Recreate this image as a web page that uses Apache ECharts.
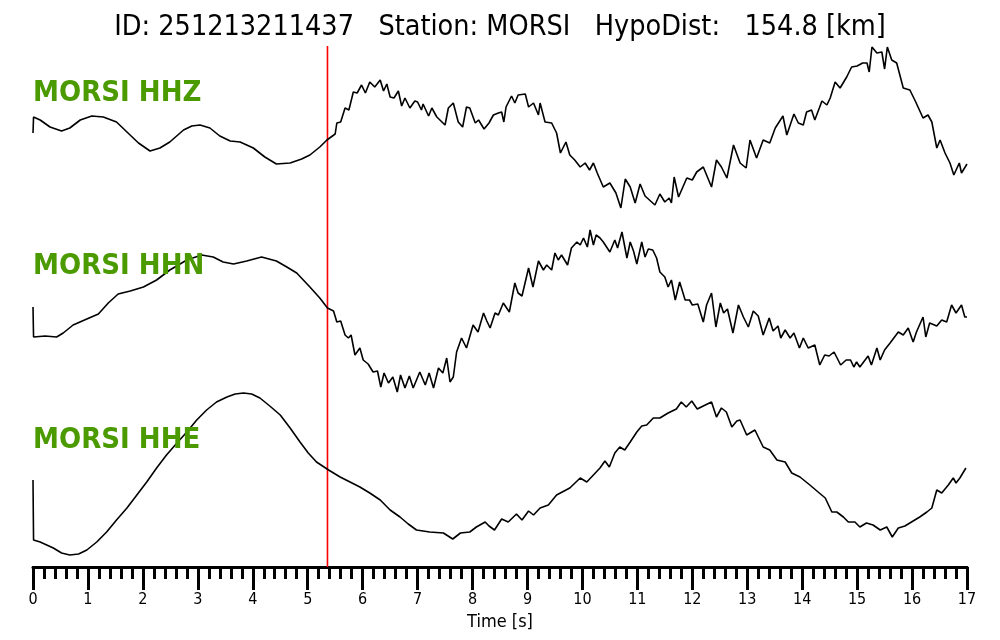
<!DOCTYPE html>
<html>
<head>
<meta charset="utf-8">
<script src="https://cdn.jsdelivr.net/npm/echarts@6/dist/echarts.min.js"></script>
<style>
  html, body { margin: 0; padding: 0; background: #fff; }
  #chart { width: 1000px; height: 640px; }
</style>
</head>
<body>
<div id="chart"></div>
<script>
// ---- header text ----
const eventId = '251213211437';
const station = 'MORSI';
const hypoDist = '154.8';
const channels = ['MORSI HHZ', 'MORSI HHN', 'MORSI HHE'];
const pickTime = 5.36;           // red marker [s]
const timeMin = 0, timeMax = 17; // x range [s]

// ---- traces: [time s, relative amplitude] ----
const hhz = [
  [0,-5],[0.01,11],[0.13,8],[0.31,1],[0.52,-3],[0.67,0],[0.86,8],[1.07,12],[1.28,11],[1.52,6],
  [1.71,-4],[1.92,-15],[2.13,-23],[2.31,-20],[2.49,-14],[2.74,-2],[2.89,2],[3.04,3],[3.22,0],[3.4,-8],
  [3.59,-13],[3.77,-14],[4.01,-20],[4.22,-29],[4.43,-36],[4.68,-35],[4.89,-31],[5.04,-27],[5.22,-19],[5.35,-12],
  [5.5,-6],[5.53,5],[5.6,6],[5.68,20],[5.75,18],[5.83,36],[5.9,35],[5.98,43],[6.05,35],
  [6.13,46],[6.22,41],[6.32,48],[6.38,37],[6.44,44],[6.5,31],[6.57,30],[6.65,37],[6.71,22],[6.77,30],
  [6.86,20],[6.95,27],[7.0,26],[7.07,18],[7.1,24],[7.2,12],[7.26,20],[7.35,11],[7.5,3],[7.56,20],
  [7.65,25],[7.74,6],[7.82,1],[7.89,21],[7.95,20],[8.05,5],[8.11,8],[8.21,-1],[8.3,5],[8.38,13],
  [8.47,15],[8.53,16],[8.57,6],[8.61,21],[8.71,32],[8.77,25],[8.83,33],[8.96,34],[9.02,21],[9.11,25],
  [9.2,13],[9.23,25],[9.32,6],[9.44,5],[9.53,-5],[9.6,-25],[9.7,-14],[9.77,-27],[9.86,-32],[9.96,-39],
  [10.05,-35],[10.13,-42],[10.2,-35],[10.27,-45],[10.38,-59],[10.5,-55],[10.61,-65],[10.7,-80],[10.78,-51],[10.87,-59],
  [10.96,-75],[11.05,-56],[11.14,-68],[11.32,-77],[11.41,-66],[11.5,-74],[11.58,-70],[11.62,-75],[11.67,-49],[11.75,-69],
  [11.9,-50],[12.0,-52],[12.08,-44],[12.2,-39],[12.35,-59],[12.44,-32],[12.53,-39],[12.63,-50],[12.75,-17],[12.87,-35],
  [12.98,-40],[13.05,-12],[13.17,-30],[13.29,-12],[13.41,-15],[13.51,0],[13.65,12],[13.72,-7],[13.85,14],[13.93,5],
  [14.02,3],[14.08,16],[14.17,18],[14.23,8],[14.36,27],[14.45,23],[14.51,30],[14.6,46],[14.69,40],[14.81,51],
  [14.9,61],[15.0,62],[15.1,65],[15.18,65],[15.22,56],[15.27,81],[15.36,75],[15.45,76],[15.5,59],[15.55,81],
  [15.63,68],[15.72,65],[15.84,40],[15.96,38],[16.05,28],[16.2,10],[16.29,13],[16.36,6],[16.45,-20],[16.51,-12],
  [16.6,-25],[16.69,-35],[16.76,-47],[16.86,-35],[16.9,-45],[17,-36]
];
const hhn = [
  [0,4],[0.01,-26],[0.22,-25],[0.43,-26],[0.55,-22],[0.73,-14],[0.98,-8],[1.19,-3],[1.37,8],[1.55,17],
  [1.77,20],[2.01,24],[2.25,31],[2.49,41],[2.8,51],[3.07,56],[3.28,54],[3.46,49],[3.65,47],[3.89,50],[4.16,54],
  [4.43,50],[4.62,44],[4.8,38],[5.04,24],[5.22,13],[5.36,3],[5.47,0],[5.53,-11],[5.6,-10],[5.68,-24],[5.74,-27],
  [5.79,-24],[5.86,-44],[5.95,-37],[6.01,-49],[6.1,-53],[6.19,-61],[6.27,-60],[6.33,-76],[6.39,-62],[6.47,-72],
  [6.55,-66],[6.63,-81],[6.69,-64],[6.77,-77],[6.85,-65],[6.92,-77],[7.04,-61],[7.14,-74],[7.21,-62],[7.29,-77],
  [7.38,-57],[7.46,-62],[7.53,-47],[7.59,-71],[7.65,-66],[7.71,-41],[7.8,-27],[7.89,-37],[8.01,-14],[8.1,-21],
  [8.2,-2],[8.26,-10],[8.32,-17],[8.41,-2],[8.47,-4],[8.56,8],[8.67,-1],[8.77,28],[8.83,18],[8.9,15],
  [9.02,43],[9.1,24],[9.2,50],[9.29,41],[9.35,46],[9.44,41],[9.5,58],[9.56,51],[9.62,56],[9.73,46],
  [9.8,63],[9.9,69],[9.96,66],[10.02,73],[10.09,64],[10.14,81],[10.2,66],[10.25,76],[10.32,73],[10.38,69],
  [10.5,59],[10.59,71],[10.64,63],[10.72,79],[10.81,53],[10.87,69],[10.93,60],[10.99,47],[11.08,69],[11.14,54],
  [11.2,62],[11.28,61],[11.35,53],[11.41,39],[11.5,34],[11.56,24],[11.62,31],[11.69,11],[11.77,29],[11.87,11],
  [11.95,11],[12.0,6],[12.1,7],[12.2,-11],[12.26,6],[12.35,18],[12.43,-16],[12.51,8],[12.57,-2],[12.64,2],
  [12.74,-22],[12.84,6],[12.93,-6],[13.02,-16],[13.11,0],[13.2,-5],[13.29,-24],[13.4,-7],[13.47,-20],[13.56,-15],
  [13.61,-27],[13.69,-19],[13.78,-27],[13.85,-22],[13.95,-37],[14.02,-27],[14.11,-37],[14.23,-34],[14.32,-54],[14.41,-44],
  [14.49,-45],[14.58,-41],[14.7,-54],[14.8,-49],[14.88,-49],[14.94,-56],[14.99,-51],[15.05,-56],[15.2,-45],[15.26,-54],
  [15.36,-37],[15.42,-49],[15.5,-39],[15.6,-32],[15.75,-21],[15.84,-24],[15.93,-17],[16.02,-31],[16.08,-21],[16.2,-6],
  [16.25,-26],[16.32,-12],[16.45,-15],[16.54,-9],[16.63,-11],[16.72,6],[16.8,-2],[16.9,6],[16.96,-6],[17,-6]
];
const hhe = [
  [0,-6],[0.01,-66],[0.13,-68],[0.37,-74],[0.52,-79],[0.67,-81],[0.83,-80],[0.98,-76],[1.16,-68],[1.34,-58],
  [1.52,-46],[1.71,-34],[1.89,-21],[2.07,-8],[2.25,6],[2.43,19],[2.62,31],[2.8,42],[2.98,54],[3.16,64],
  [3.34,72],[3.53,77],[3.68,80],[3.83,81],[3.98,80],[4.13,76],[4.31,68],[4.5,59],[4.68,46],[4.86,32],
  [5.01,21],[5.16,12],[5.38,4],[5.59,-3],[5.77,-8],
  [5.95,-13],[6.13,-19],[6.32,-26],[6.5,-36],[6.68,-43],[6.83,-50],[6.98,-56],[7.22,-58],[7.47,-59],[7.64,-65],
  [7.78,-59],[7.95,-58],[8.07,-53],[8.23,-48],[8.3,-52],[8.4,-56],[8.53,-45],[8.65,-48],[8.8,-40],[8.9,-46],
  [9.02,-37],[9.11,-41],[9.23,-34],[9.38,-31],[9.53,-21],[9.77,-14],[9.96,-4],[10.08,-8],[10.2,-1],[10.32,6],
  [10.41,13],[10.49,7],[10.59,21],[10.68,27],[10.77,24],[10.87,32],[10.99,42],[11.08,48],[11.17,49],[11.29,56],
  [11.41,56],[11.56,61],[11.71,65],[11.8,72],[11.89,67],[11.99,73],[12.09,65],[12.2,68],[12.35,72],[12.44,57],
  [12.53,66],[12.62,62],[12.72,47],[12.81,53],[12.87,54],[12.99,39],[13.14,44],[13.29,27],[13.41,24],[13.54,14],
  [13.69,12],[13.81,1],[13.96,-3],[14.14,-11],[14.29,-18],[14.42,-24],[14.54,-38],[14.63,-38],[14.75,-43],[14.84,-48],
  [14.96,-48],[15.05,-53],[15.17,-49],[15.29,-51],[15.42,-56],[15.54,-53],[15.64,-63],[15.75,-54],[15.87,-52],[15.99,-48],
  [16.14,-43],[16.27,-38],[16.36,-34],[16.45,-16],[16.54,-19],[16.66,-11],[16.75,-4],[16.8,-9],[16.87,-4],[16.98,6]
];
const traces = [hhz, hhn, hhe];

// ---- layout ----
const FONT = "'DejaVu Sans Condensed', 'DejaVu Sans', sans-serif";
const L = 33, R = 33;
const traceTops = [40, 223, 386];
const traceH = 176;
const amp = 88;
const labelTops = [74, 247, 421];

const chart = echarts.init(document.getElementById('chart'), null, { renderer: 'canvas' });

const grids = [], xAxes = [], yAxes = [], series = [];
traces.forEach((tr, i) => {
  grids.push({ left: L, right: R, top: traceTops[i], height: traceH });
  xAxes.push({ gridIndex: i, type: 'value', min: timeMin, max: timeMax, show: false });
  yAxes.push({ gridIndex: i, type: 'value', min: -amp, max: amp, show: false });
  series.push({
    type: 'line', xAxisIndex: i, yAxisIndex: i, data: tr, showSymbol: false,
    lineStyle: { color: '#000', width: 1.6 }, z: 3, silent: true
  });
});
// overall frame grid: top line + time axis
const gi = traces.length;
grids.push({ left: L, right: R, top: 46, bottom: 73 });
xAxes.push({
  gridIndex: gi, type: 'value', position: 'top', min: timeMin, max: timeMax,
  axisLine: { show: true, lineStyle: { color: '#000', width: 2 } },
  axisTick: { show: false }, axisLabel: { show: false }, splitLine: { show: false }
});
xAxes.push({
  gridIndex: gi, type: 'value', position: 'bottom', min: timeMin, max: timeMax, interval: 1,
  name: 'Time [s]', nameLocation: 'middle', nameGap: 39,
  nameTextStyle: { fontFamily: FONT, fontSize: 18, color: '#000' },
  axisLine: { show: true, onZero: false, lineStyle: { color: '#000', width: 3 } },
  axisTick: { show: true, inside: false, length: 23, lineStyle: { color: '#000', width: 3 } },
  minorTick: { show: true, splitNumber: 5, length: 12, lineStyle: { color: '#000', width: 3 } },
  axisLabel: { show: true, margin: 25, fontFamily: FONT, fontSize: 16, color: '#000' },
  splitLine: { show: false }, minorSplitLine: { show: false }
});
yAxes.push({ gridIndex: gi, type: 'value', min: 0, max: 1, show: false });
series.push({
  type: 'line', xAxisIndex: gi, yAxisIndex: gi, data: [[pickTime, 0], [pickTime, 1]],
  showSymbol: false, lineStyle: { color: '#ff0000', width: 1.6 }, z: 2, silent: true
});

const titles = [{
  text: 'ID: ' + eventId + '   Station: ' + station + '   HypoDist:   ' + hypoDist + ' [km]',
  left: 'center', top: 8,
  textStyle: { fontFamily: FONT, fontSize: 28.5, fontWeight: 'normal', color: '#000' }
}];
channels.forEach((c, i) => {
  titles.push({
    text: c, left: L - 5, top: labelTops[i],
    textStyle: { fontFamily: FONT, fontSize: 29, fontWeight: 'bold', color: '#4b9a00' }
  });
});

chart.setOption({
  animation: false,
  backgroundColor: '#fff',
  title: titles,
  grid: grids,
  xAxis: xAxes,
  yAxis: yAxes,
  series: series
});
</script>
</body>
</html>
